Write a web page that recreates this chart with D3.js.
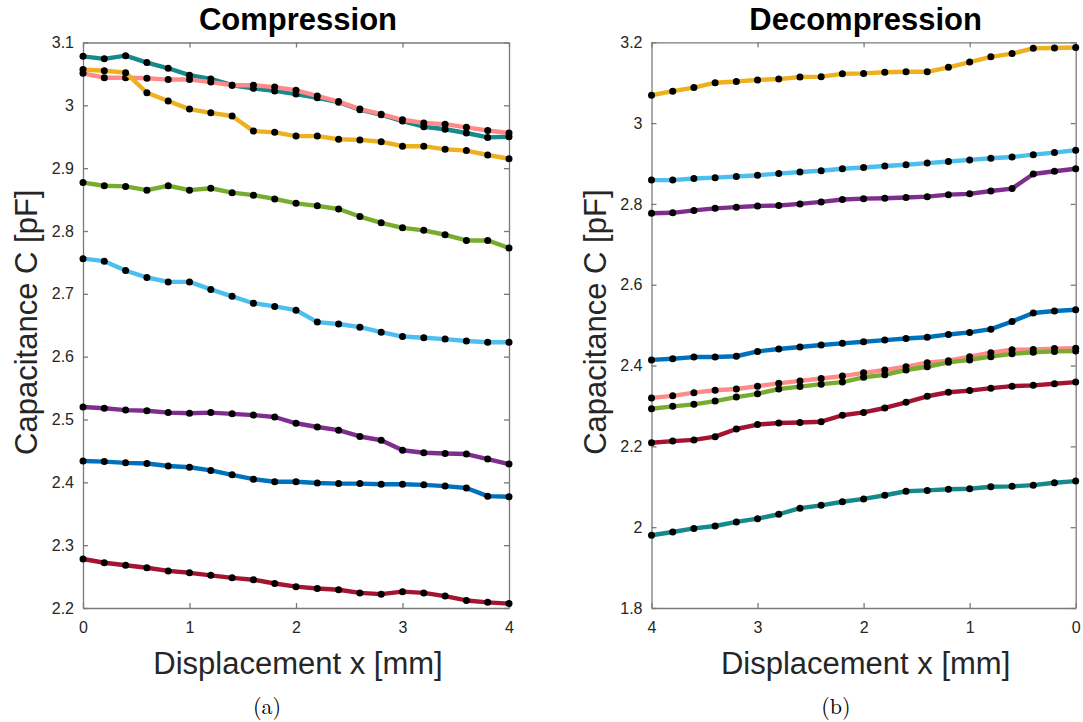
<!DOCTYPE html>
<html>
<head>
<meta charset="utf-8">
<script src="https://cdn.jsdelivr.net/npm/d3@7"></script>
<style>
  html, body { margin: 0; padding: 0; background: #fff; }
  svg { display: block; font-family: "Liberation Sans", Arial, Helvetica, sans-serif; }
  .tick text { fill: #262626; font-size: 16px; }
  .axis path, .axis line { stroke: #7a7a7a; stroke-width: 1.3; }
</style>
</head>
<body>
<svg id="chart" width="1083" height="722"></svg>
<script>
// Displacement positions (mm), 0.2 mm steps
const xCompression = [0, 0.2, 0.4, 0.6, 0.8, 1.0, 1.2, 1.4, 1.6, 1.8, 2.0, 2.2, 2.4, 2.6, 2.8, 3.0, 3.2, 3.4, 3.6, 3.8, 4.0];
const xDecompression = [4.0, 3.8, 3.6, 3.4, 3.2, 3.0, 2.8, 2.6, 2.4, 2.2, 2.0, 1.8, 1.6, 1.4, 1.2, 1.0, 0.8, 0.6, 0.4, 0.2, 0];

// Compression capacitance (pF)
const compTeal   = [3.078, 3.074, 3.079, 3.068, 3.059, 3.048, 3.042, 3.032, 3.027, 3.023, 3.018, 3.012, 3.005, 2.993, 2.985, 2.975, 2.966, 2.962, 2.956, 2.949, 2.950];
const compPink   = [3.051, 3.044, 3.044, 3.043, 3.041, 3.041, 3.037, 3.032, 3.032, 3.029, 3.024, 3.015, 3.006, 2.994, 2.986, 2.977, 2.972, 2.970, 2.965, 2.960, 2.956];
const compYellow = [3.057, 3.055, 3.052, 3.020, 3.007, 2.994, 2.988, 2.983, 2.959, 2.957, 2.951, 2.951, 2.946, 2.945, 2.942, 2.935, 2.935, 2.930, 2.928, 2.921, 2.915];
const compGreen  = [2.877, 2.872, 2.871, 2.865, 2.872, 2.865, 2.868, 2.861, 2.857, 2.851, 2.844, 2.840, 2.835, 2.823, 2.813, 2.805, 2.801, 2.794, 2.785, 2.785, 2.773];
const compSky    = [2.756, 2.752, 2.737, 2.726, 2.719, 2.719, 2.707, 2.696, 2.685, 2.680, 2.674, 2.655, 2.652, 2.647, 2.639, 2.632, 2.630, 2.628, 2.625, 2.623, 2.623];
const compPurple = [2.520, 2.518, 2.515, 2.514, 2.511, 2.510, 2.511, 2.509, 2.507, 2.504, 2.494, 2.488, 2.483, 2.473, 2.467, 2.451, 2.447, 2.446, 2.445, 2.437, 2.429];
const compBlue   = [2.434, 2.433, 2.431, 2.430, 2.426, 2.424, 2.419, 2.412, 2.405, 2.401, 2.401, 2.399, 2.398, 2.398, 2.397, 2.397, 2.396, 2.394, 2.391, 2.378, 2.377];
const compRed    = [2.278, 2.272, 2.268, 2.264, 2.259, 2.256, 2.252, 2.248, 2.245, 2.239, 2.234, 2.231, 2.229, 2.224, 2.222, 2.226, 2.224, 2.219, 2.212, 2.209, 2.207];

// Decompression capacitance (pF), ordered from x = 4 mm back to 0 mm
const decTeal    = [1.980, 1.988, 1.997, 2.003, 2.013, 2.021, 2.032, 2.047, 2.054, 2.063, 2.070, 2.079, 2.089, 2.091, 2.094, 2.095, 2.100, 2.101, 2.104, 2.110, 2.114];
const decPink    = [2.320, 2.325, 2.333, 2.339, 2.342, 2.349, 2.356, 2.362, 2.368, 2.374, 2.382, 2.389, 2.397, 2.407, 2.412, 2.422, 2.432, 2.439, 2.440, 2.442, 2.443];
const decYellow  = [3.069, 3.079, 3.088, 3.100, 3.103, 3.107, 3.109, 3.114, 3.115, 3.122, 3.123, 3.126, 3.127, 3.127, 3.138, 3.151, 3.164, 3.172, 3.185, 3.186, 3.187];
const decGreen   = [2.293, 2.299, 2.304, 2.312, 2.322, 2.330, 2.342, 2.348, 2.354, 2.359, 2.371, 2.377, 2.389, 2.397, 2.408, 2.414, 2.422, 2.429, 2.433, 2.435, 2.436];
const decSky     = [2.859, 2.859, 2.863, 2.865, 2.868, 2.871, 2.875, 2.879, 2.882, 2.887, 2.890, 2.894, 2.897, 2.901, 2.905, 2.909, 2.913, 2.916, 2.922, 2.927, 2.933];
const decPurple  = [2.777, 2.778, 2.784, 2.789, 2.792, 2.795, 2.796, 2.800, 2.805, 2.811, 2.813, 2.814, 2.816, 2.818, 2.823, 2.825, 2.832, 2.838, 2.874, 2.881, 2.887];
const decBlue    = [2.414, 2.417, 2.421, 2.421, 2.423, 2.435, 2.441, 2.446, 2.451, 2.455, 2.459, 2.463, 2.467, 2.470, 2.477, 2.482, 2.490, 2.509, 2.530, 2.535, 2.538];
const decRed     = [2.209, 2.213, 2.216, 2.224, 2.243, 2.254, 2.258, 2.259, 2.261, 2.277, 2.284, 2.295, 2.309, 2.324, 2.334, 2.338, 2.344, 2.349, 2.351, 2.355, 2.359];

// Axis ticks
const xTicks = [0, 1, 2, 3, 4];
const compYTicks = [2.2, 2.3, 2.4, 2.5, 2.6, 2.7, 2.8, 2.9, 3.0, 3.1];
const decYTicks = [1.8, 2.0, 2.2, 2.4, 2.6, 2.8, 3.0, 3.2];

// Series colours (draw order: first is drawn underneath)
const seriesColors = {
  teal: "#17898a", pink: "#ff8a8a", green: "#77ac30", yellow: "#edb120",
  sky: "#4dbeee", purple: "#7e2f8e", blue: "#0072bd", red: "#a2142f"
};

const svg = d3.select("#chart");

function panel(opts) {
  const { left, right, top, bottom, xDomain, yDomain, yTicks, xs, series, title, caption, captionX } = opts;
  const x = d3.scaleLinear().domain(xDomain).range([left, right]);
  const y = d3.scaleLinear().domain(yDomain).range([bottom, top]);
  const g = svg.append("g");
  const fmt = d => d3.format("")(+d.toFixed(1));

  // bottom axis with inward ticks
  g.append("g").attr("class", "axis").attr("transform", `translate(0,${bottom})`)
    .call(d3.axisBottom(x).tickValues(xTicks).tickSizeInner(-5).tickSizeOuter(0).tickPadding(14).tickFormat(d3.format("d")));
  // top axis
  g.append("g").attr("class", "axis").attr("transform", `translate(0,${top})`)
    .call(d3.axisTop(x).tickValues(xTicks).tickSizeInner(-5).tickSizeOuter(0).tickFormat(""));
  // left axis
  g.append("g").attr("class", "axis").attr("transform", `translate(${left},0)`)
    .call(d3.axisLeft(y).tickValues(yTicks).tickSizeInner(-5).tickSizeOuter(0).tickPadding(9).tickFormat(fmt));
  // right axis
  g.append("g").attr("class", "axis").attr("transform", `translate(${right},0)`)
    .call(d3.axisRight(y).tickValues(yTicks).tickSizeInner(-5).tickSizeOuter(0).tickFormat(""));
  g.selectAll(".domain").attr("stroke", "#7a7a7a").attr("stroke-width", 1.3);
  g.selectAll(".tick text").attr("font-family", "'Liberation Sans', Arial, sans-serif");

  const line = d3.line().x((d, i) => x(xs[i])).y(d => y(d));
  const clipId = "clip" + Math.round(left);
  svg.append("clipPath").attr("id", clipId)
    .append("rect").attr("x", left - 6).attr("y", top - 6).attr("width", right - left + 12).attr("height", bottom - top + 12);
  const plot = g.append("g").attr("clip-path", `url(#${clipId})`);

  series.forEach(s => {
    plot.append("path").datum(s.values)
      .attr("fill", "none").attr("stroke", s.color).attr("stroke-width", 4.4)
      .attr("stroke-linejoin", "round").attr("stroke-linecap", "round")
      .attr("d", line);
    plot.append("g").selectAll("circle").data(s.values).join("circle")
      .attr("cx", (d, i) => x(xs[i])).attr("cy", d => y(d)).attr("r", 3.5)
      .attr("fill", "#000");
  });

  const cx = (left + right) / 2;
  g.append("text").attr("x", cx + 2).attr("y", 30).attr("text-anchor", "middle")
    .attr("font-size", 31).attr("font-weight", "bold").attr("fill", "#000").text(title);
  g.append("text").attr("x", cx + 2).attr("y", 674).attr("text-anchor", "middle")
    .attr("font-size", 31).attr("fill", "#262626").text("Displacement x [mm]");
  g.append("text").attr("transform", `translate(${left - 46},${(top + bottom) / 2 - 3}) rotate(-90)`)
    .attr("text-anchor", "middle").attr("font-size", 31).attr("fill", "#262626").text("Capacitance C [pF]");
  g.append("text").attr("x", captionX).attr("y", 714).attr("text-anchor", "middle")
    .attr("font-family", "'Latin Modern Roman', 'DejaVu Serif', 'Liberation Serif', serif")
    .attr("font-size", 22).attr("fill", "#000").text(caption);
}

panel({
  left: 83, right: 509, top: 42.5, bottom: 608,
  xDomain: [0, 4], yDomain: [2.2, 3.1], yTicks: compYTicks, xs: xCompression,
  title: "Compression", caption: "(a)", captionX: 267,
  series: [
    { color: seriesColors.teal, values: compTeal },
    { color: seriesColors.pink, values: compPink },
    { color: seriesColors.green, values: compGreen },
    { color: seriesColors.yellow, values: compYellow },
    { color: seriesColors.sky, values: compSky },
    { color: seriesColors.purple, values: compPurple },
    { color: seriesColors.blue, values: compBlue },
    { color: seriesColors.red, values: compRed }
  ]
});

panel({
  left: 651.5, right: 1075.7, top: 42.3, bottom: 608,
  xDomain: [4, 0], yDomain: [1.8, 3.2], yTicks: decYTicks, xs: xDecompression,
  title: "Decompression", caption: "(b)", captionX: 836,
  series: [
    { color: seriesColors.teal, values: decTeal },
    { color: seriesColors.pink, values: decPink },
    { color: seriesColors.green, values: decGreen },
    { color: seriesColors.yellow, values: decYellow },
    { color: seriesColors.sky, values: decSky },
    { color: seriesColors.purple, values: decPurple },
    { color: seriesColors.blue, values: decBlue },
    { color: seriesColors.red, values: decRed }
  ]
});
</script>
</body>
</html>
